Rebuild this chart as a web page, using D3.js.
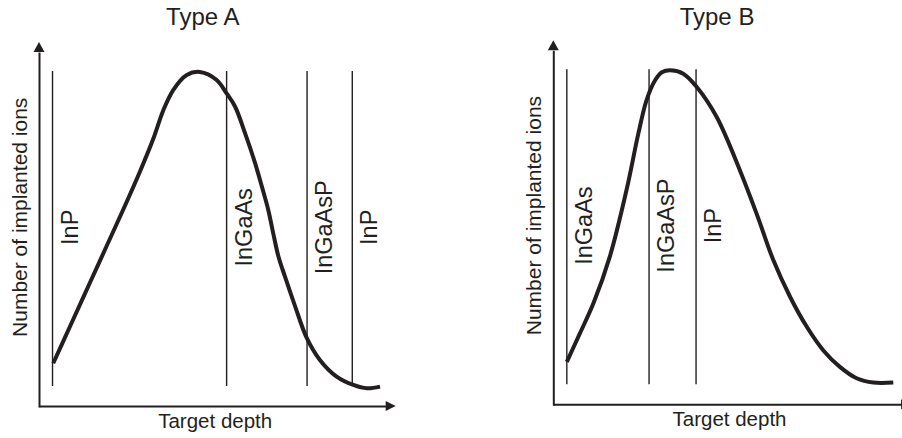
<!DOCTYPE html>
<html>
<head>
<meta charset="utf-8">
<script src="https://cdn.jsdelivr.net/npm/d3@7"></script>
<style>
  body { margin: 0; background: #fff; }
  text { font-family: "Liberation Sans", Arial, sans-serif; fill: #231f20; }
</style>
</head>
<body>
<div id="chart"></div>
<script>
const width = 902;
const height = 438;
const ink = "#231f20";

// Type A profile (depth in arbitrary units, ions normalised to peak)
const depthA = [0.40, 0.96, 1.43, 1.90, 2.37, 2.84, 3.21, 3.49, 3.77, 4.15, 4.52, 4.99, 5.27, 5.51, 5.79, 6.07, 6.26, 6.44, 6.58, 6.72, 6.91, 7.19, 7.52, 7.89, 8.36, 8.83, 9.21, 9.58];
const ionsA  = [0.128, 0.259, 0.369, 0.479, 0.589, 0.703, 0.800, 0.885, 0.946, 0.991, 1.000, 0.976, 0.936, 0.896, 0.816, 0.727, 0.657, 0.587, 0.517, 0.450, 0.387, 0.300, 0.204, 0.138, 0.088, 0.063, 0.053, 0.058];
const boundsA = [0.38, 5.27, 7.53, 8.80];
const layersA = ["InP", "InGaAs", "InGaAsP", "InP"];

// Type B profile
const depthB = [0.38, 0.75, 1.13, 1.59, 2.06, 2.39, 2.62, 2.86, 3.05, 3.28, 3.65, 4.03, 4.59, 5.24, 5.71, 6.18, 6.65, 7.12, 7.58, 8.05, 8.52, 8.99, 9.55];
const ionsB  = [0.127, 0.213, 0.303, 0.443, 0.643, 0.811, 0.911, 0.970, 0.994, 1.000, 0.990, 0.950, 0.860, 0.701, 0.571, 0.432, 0.322, 0.232, 0.162, 0.112, 0.078, 0.065, 0.065];
const boundsB = [0.38, 2.69, 4.01];
const layersB = ["InGaAs", "InGaAsP", "InP"];

const titles = ["Type A", "Type B"];
const xLabel = "Target depth";
const yLabel = "Number of implanted ions";

const panels = [
  { title: titles[0], depth: depthA, ions: ionsA, bounds: boundsA, layers: layersA, ox: 39, oy: 406, xEnd: 10.02 },
  { title: titles[1], depth: depthB, ions: ionsB, bounds: boundsB, layers: layersB, ox: 553.3, oy: 404.3, xEnd: 10.05 }
];

const svg = d3.select("#chart")
  .append("svg")
  .attr("width", width)
  .attr("height", height);

panels.forEach(p => {
  const x = d3.scaleLinear().domain([0, 10]).range([p.ox, p.ox + 356]);
  const y = d3.scaleLinear().domain([0, 1]).range([p.oy, p.oy - 334]);
  const g = svg.append("g");

  // axes without ticks, arrows at the ends
  const xAxisScale = x.copy().domain([0, p.xEnd - 0.25]).range([p.ox, x(p.xEnd - 0.25)]);
  g.append("g")
    .attr("transform", `translate(0,${p.oy})`)
    .call(d3.axisBottom(xAxisScale).tickValues([]).tickSizeOuter(0))
    .select(".domain").attr("stroke", ink).attr("stroke-width", 2);

  const yAxisScale = y.copy().domain([0, 1.06]).range([p.oy + 1, y(1.06)]);
  g.append("g")
    .attr("transform", `translate(${p.ox},0)`)
    .call(d3.axisLeft(yAxisScale).tickValues([]).tickSizeOuter(0))
    .select(".domain").attr("stroke", ink).attr("stroke-width", 2);

  const xt = x(p.xEnd);
  g.append("path")
    .attr("d", `M${xt},${p.oy} L${xt - 10},${p.oy - 5} L${xt - 10},${p.oy + 5} Z`)
    .attr("fill", ink);
  const yt = y(1.09);
  g.append("path")
    .attr("d", `M${p.ox},${yt} L${p.ox - 5.5},${yt + 10} L${p.ox + 5.5},${yt + 10} Z`)
    .attr("fill", ink);

  // layer boundaries
  g.selectAll(".bound")
    .data(p.bounds)
    .enter().append("line")
    .attr("class", "bound")
    .attr("x1", d => x(d)).attr("x2", d => x(d))
    .attr("y1", y(1.003)).attr("y2", y(0.06))
    .attr("stroke", ink)
    .attr("stroke-width", 1.4);

  g.selectAll(".layer")
    .data(p.layers)
    .enter().append("text")
    .attr("class", "layer")
    .attr("transform", (d, i) => `translate(${x(p.bounds[i]) + 25},${y(0.535)}) rotate(-90)`)
    .attr("text-anchor", "middle")
    .attr("font-size", 23.5)
    .text(d => d);

  // profile curve
  const pts = p.depth.map((d, i) => [d, p.ions[i]]);
  g.append("path")
    .datum(pts)
    .attr("fill", "none")
    .attr("stroke", ink)
    .attr("stroke-width", 4)
    .attr("stroke-linecap", "butt")
    .attr("d", d3.line().x(d => x(d[0])).y(d => y(d[1])).curve(d3.curveCatmullRom.alpha(0.5)));

  // titles and axis labels
  g.append("text")
    .attr("x", x(4.6)).attr("y", 25)
    .attr("text-anchor", "middle")
    .attr("font-size", 24)
    .text(p.title);

  g.append("text")
    .attr("x", x(4.95)).attr("y", p.oy + 21.5)
    .attr("text-anchor", "middle")
    .attr("font-size", 20.5)
    .text(xLabel);

  g.append("text")
    .attr("transform", `translate(${p.ox - 12.5},${y(0.565)}) rotate(-90)`)
    .attr("text-anchor", "middle")
    .attr("font-size", 21)
    .text(yLabel);
});
</script>
</body>
</html>
